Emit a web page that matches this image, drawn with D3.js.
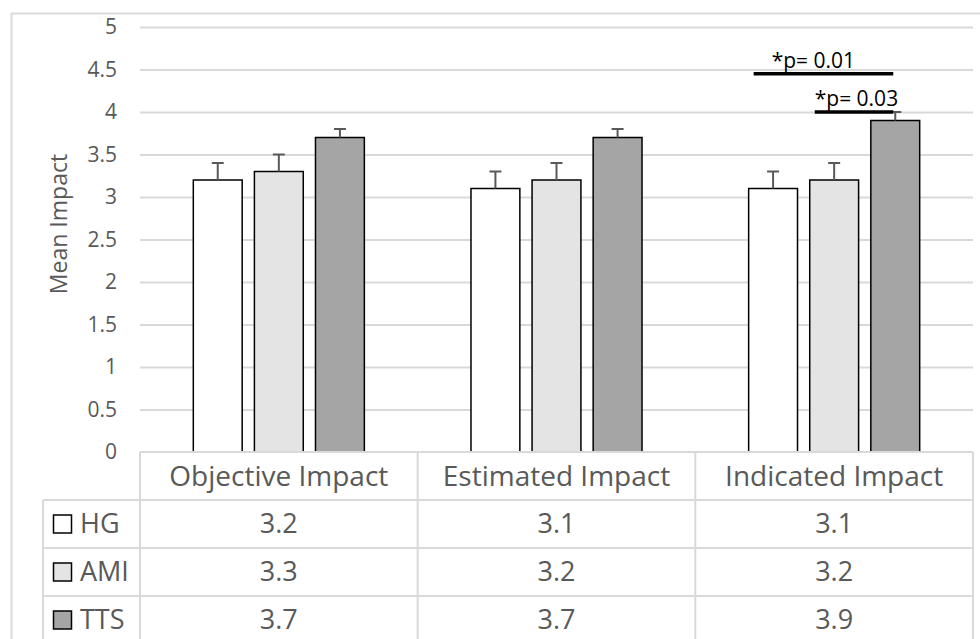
<!DOCTYPE html>
<html>
<head>
<meta charset="utf-8">
<script src="https://cdn.jsdelivr.net/npm/d3@7"></script>
<style>
  body { margin: 0; background: #fff; }
  text { font-family: "Open Sans", sans-serif; }
</style>
</head>
<body>
<div id="chart"></div>
<script>
const categories = ["Objective Impact", "Estimated Impact", "Indicated Impact"]
const seriesNames = ["HG", "AMI", "TTS"]
const hgValues = [3.2, 3.1, 3.1]
const amiValues = [3.3, 3.2, 3.2]
const ttsValues = [3.7, 3.7, 3.9]
const hgErrors = [0.2, 0.2, 0.2]
const amiErrors = [0.2, 0.2, 0.2]
const ttsErrors = [0.1, 0.1, 0.1]
const yTicks = [0, 0.5, 1, 1.5, 2, 2.5, 3, 3.5, 4, 4.5, 5]
const sigLabels = ["*p= 0.01", "*p= 0.03"]
const sigFrom = ["HG", "AMI"]
const sigTo = ["TTS", "TTS"]
const sigLevels = [4.45, 4.0]

const colors = {HG: "#ffffff", AMI: "#e4e4e4", TTS: "#a5a5a5"}
const textColor = "#595959"
const gridColor = "#d9d9d9"

const W = 980, H = 639
const margin = ({top: 27, right: 7, bottom: 187, left: 140})
const width = W - margin.left - margin.right
const height = H - margin.top - margin.bottom
const rowH = 48

const values = {HG: hgValues, AMI: amiValues, TTS: ttsValues}
const errors = {HG: hgErrors, AMI: amiErrors, TTS: ttsErrors}

const data = categories.map((c, i) => ({
    category: c,
    bars: seriesNames.map(s => ({series: s, category: c, value: values[s][i], err: errors[s][i]}))
}))

const svg = d3.select("#chart").append("svg")
    .attr("width", W)
    .attr("height", H)

// outer chart border
svg.append("path")
    .attr("d", `M11.5,${H} V13.5 H${W}`)
    .attr("fill", "none")
    .attr("stroke", gridColor)
    .attr("stroke-width", 2)

const g = svg.append("g")
    .attr("transform", `translate(${margin.left},${margin.top})`)

const x = d3.scaleBand().domain(categories).range([0, width])
const bw = x.bandwidth()
const xs = d3.scaleBand().domain(seriesNames)
    .range([bw * 0.192, bw * 0.808])
    .paddingInner(0.2)
const y = d3.scaleLinear().domain([0, 5]).range([height, 0])

// gridlines
g.append("g")
    .attr("class", "grid")
    .call(d3.axisLeft(y).tickValues(yTicks.filter(d => d > 0)).tickSize(-width).tickFormat(""))
    .call(s => s.select(".domain").remove())
    .call(s => s.selectAll("line").attr("stroke", gridColor).attr("stroke-width", 2))

// y axis labels
g.append("g")
    .attr("class", "y-axis")
    .call(d3.axisLeft(y).tickValues(yTicks).tickSize(0).tickPadding(23).tickFormat(d3.format("")))
    .call(s => s.select(".domain").remove())
    .call(s => s.selectAll("text").attr("fill", textColor).style("font-size", "21px"))

svg.append("text")
    .attr("transform", `translate(67,224) rotate(-90)`)
    .attr("text-anchor", "middle")
    .attr("fill", textColor)
    .style("font-size", "23px")
    .text("Mean Impact")

// bars
const groups = g.selectAll(".group")
    .data(data)
    .join("g")
    .attr("class", "group")
    .attr("transform", d => `translate(${x(d.category)},0)`)

groups.selectAll("rect")
    .data(d => d.bars)
    .join("rect")
    .attr("x", d => xs(d.series))
    .attr("y", d => y(d.value))
    .attr("width", xs.bandwidth())
    .attr("height", d => height - y(d.value))
    .attr("fill", d => colors[d.series])
    .attr("stroke", "#000")
    .attr("stroke-width", 1.5)

// error bars
const eb = groups.selectAll(".err")
    .data(d => d.bars)
    .join("g")
    .attr("class", "err")
    .attr("stroke", textColor)
    .attr("stroke-width", 2)
eb.append("line")
    .attr("x1", d => xs(d.series) + xs.bandwidth() / 2)
    .attr("x2", d => xs(d.series) + xs.bandwidth() / 2)
    .attr("y1", d => y(d.value))
    .attr("y2", d => y(d.value + d.err))
eb.append("line")
    .attr("x1", d => xs(d.series) + xs.bandwidth() / 2 - 6)
    .attr("x2", d => xs(d.series) + xs.bandwidth() / 2 + 6)
    .attr("y1", d => y(d.value + d.err))
    .attr("y2", d => y(d.value + d.err))

// significance markers on last category
const lastCat = categories[categories.length - 1]
const sig = g.append("g").attr("transform", `translate(${x(lastCat)},0)`)
sigLabels.forEach((label, i) => {
    const x1 = xs(sigFrom[i]) + 5
    const x2 = xs(sigTo[i]) + xs.bandwidth() / 2 - 2
    sig.append("line")
        .attr("x1", x1).attr("x2", x2)
        .attr("y1", y(sigLevels[i])).attr("y2", y(sigLevels[i]))
        .attr("stroke", "#000")
        .attr("stroke-width", 3.5)
    sig.append("text")
        .attr("x", i === 0 ? x1 + 18 : x1)
        .attr("y", y(sigLevels[i]) - 6)
        .attr("fill", "#000")
        .style("font-size", "21px")
        .text(label)
})

// data table
const table = svg.append("g")
    .attr("transform", `translate(${margin.left},${margin.top + height})`)
const legendX = 43 - margin.left

// horizontal lines
table.append("line")
    .attr("x1", 0).attr("x2", width)
    .attr("y1", 0).attr("y2", 0)
    .attr("stroke", gridColor).attr("stroke-width", 2)
seriesNames.forEach((s, i) => {
    table.append("line")
        .attr("x1", legendX).attr("x2", width)
        .attr("y1", rowH * (i + 1)).attr("y2", rowH * (i + 1))
        .attr("stroke", gridColor).attr("stroke-width", 2)
})
// vertical lines
table.append("line")
    .attr("x1", legendX).attr("x2", legendX)
    .attr("y1", rowH).attr("y2", rowH * 4)
    .attr("stroke", gridColor).attr("stroke-width", 2)
categories.forEach(c => {
    table.append("line")
        .attr("x1", x(c)).attr("x2", x(c))
        .attr("y1", 0).attr("y2", rowH * 4)
        .attr("stroke", gridColor).attr("stroke-width", 2)
})
table.append("line")
    .attr("x1", width).attr("x2", width)
    .attr("y1", 0).attr("y2", rowH * 4)
    .attr("stroke", gridColor).attr("stroke-width", 2)

// header
table.selectAll(".head")
    .data(categories)
    .join("text")
    .attr("class", "head")
    .attr("x", d => x(d) + bw / 2)
    .attr("y", rowH / 2)
    .attr("dy", "0.35em")
    .attr("text-anchor", "middle")
    .attr("fill", textColor)
    .style("font-size", "28px")
    .text(d => d)

// rows
seriesNames.forEach((s, i) => {
    const ry = rowH * (i + 1)
    table.append("rect")
        .attr("x", legendX + 10.5).attr("y", ry + rowH / 2 - 9)
        .attr("width", 18).attr("height", 18)
        .attr("fill", colors[s]).attr("stroke", "#000").attr("stroke-width", 1.5)
    table.append("text")
        .attr("x", legendX + 37).attr("y", ry + rowH / 2)
        .attr("dy", "0.35em")
        .attr("fill", textColor)
        .style("font-size", "27px")
        .text(s)
    table.selectAll(".v" + s)
        .data(values[s])
        .join("text")
        .attr("x", (d, j) => x(categories[j]) + bw / 2)
        .attr("y", ry + rowH / 2)
        .attr("dy", "0.35em")
        .attr("text-anchor", "middle")
        .attr("fill", textColor)
        .style("font-size", "27px")
        .text(d => d)
})
</script>
</body>
</html>
